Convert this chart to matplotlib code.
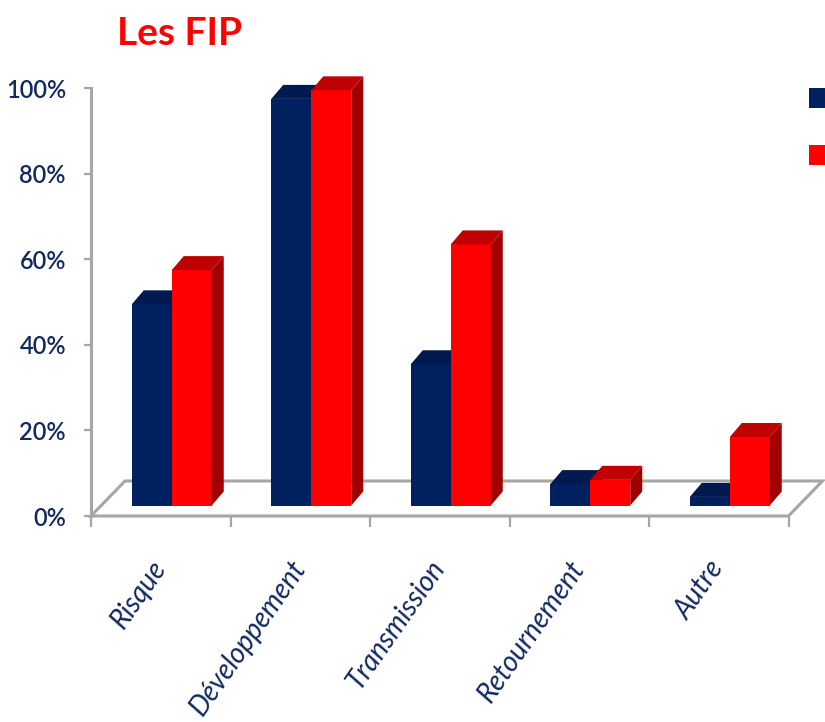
import matplotlib
matplotlib.use('Agg')
import matplotlib.pyplot as plt
from matplotlib.patches import Polygon, Patch
from matplotlib.transforms import ScaledTranslation
import numpy as np

#%% data

categories = ['Risque', 'Développement', 'Transmission', 'Retournement', 'Autre']
serie_bleue = [47, 95, 33, 5, 2]
serie_rouge = [55, 97, 61, 6, 16]
yticks = [0, 20, 40, 60, 80, 100]

navy = '#002060'
navy_top = '#001a4f'
navy_side = '#00164a'
red = '#ff0000'
red_top = '#c00000'
red_side = '#a00000'
grey = '#a6a6a6'
text_col = '#11295e'

#%% figure

fig = plt.figure(figsize=(8.25, 7.22), dpi=100)
W, H = 825, 722
ax = fig.add_axes([91 / W, (H - 516) / H, 697.5 / W, 428 / H])
ax.set_xlim(-0.5, 4.5)
ax.set_ylim(0, 100)

px_x = 5 / 697.5     # data units per pixel, x
px_y = 100 / 428     # data units per pixel, y

# floor
fdx, fdy = 34 * px_x, 35 * px_y
floor = Polygon([(-0.5, 0), (4.5, 0), (4.5 + fdx, fdy), (-0.5 + fdx, fdy)],
                closed=True, facecolor='white', edgecolor=grey, lw=2.2,
                clip_on=False, zorder=1)
ax.add_patch(floor)

# bars sit a bit behind the front edge of the floor
shift = ScaledTranslation(11 / 100, 10.5 / 100, fig.dpi_scale_trans)
tr = ax.transData + shift

x = np.arange(len(categories))
w = 40 * px_x
ddx, ddy = 12 * px_x, 14 * px_y


def draw_bars(xs, vals, front, top, side, z):
    ax.bar(xs, vals, width=w, color=front, transform=tr, zorder=z,
           clip_on=False)
    for xc, v in zip(xs, vals):
        xl, xr = xc - w / 2, xc + w / 2
        ax.add_patch(Polygon([(xl, v), (xr, v), (xr + ddx, v + ddy),
                              (xl + ddx, v + ddy)], closed=True,
                             facecolor=top, lw=0, transform=tr, zorder=z,
                             clip_on=False))
        ax.add_patch(Polygon([(xr, 0), (xr + ddx, ddy), (xr + ddx, v + ddy),
                              (xr, v)], closed=True, facecolor=side, lw=0,
                             transform=tr, zorder=z, clip_on=False))


draw_bars(x - w / 2, serie_bleue, navy, navy_top, navy_side, 3)
draw_bars(x + w / 2, serie_rouge, red, red_top, red_side, 4)

#%% axes

for s in ['top', 'right', 'bottom']:
    ax.spines[s].set_visible(False)
ax.spines['left'].set_color(grey)
ax.spines['left'].set_linewidth(2.2)

ax.set_yticks(yticks)
ax.set_yticklabels([f'{t}%' for t in yticks])
ax.tick_params(axis='y', length=5, width=1.6, color=grey, pad=13,
               labelsize=17, labelcolor=text_col)

ax.set_xticks(x)
ax.set_xticklabels(categories, rotation=55, ha='right', va='center',
                   rotation_mode='anchor', fontstyle='italic', fontsize=20,
                   color=text_col)
ax.set_xticks(np.arange(-0.5, 5, 1), minor=True)
ax.tick_params(axis='x', which='major', length=0, pad=34)
ax.tick_params(axis='x', which='minor', length=8, width=1.6, color=grey)

for lab in ax.get_xticklabels():
    lab.set_fontfamily(['Lato', 'DejaVu Sans'])
for lab in ax.get_yticklabels():
    lab.set_fontfamily(['Lato', 'DejaVu Sans'])
    lab.set_fontweight('semibold')

fig.text(117 / W, 1 - 45 / H, 'Les FIP', color=red, fontsize=28,
         fontweight='bold', family=['Lato', 'DejaVu Sans'], va='baseline')

# legend, cut by the right edge like in the original slide
handles = [Patch(facecolor=navy), Patch(facecolor=red)]
fig.legend(handles, ['', ''], loc='upper left',
           bbox_to_anchor=(809 / W, 1 - 88 / H), frameon=False,
           fontsize=16, handlelength=1.0, handleheight=1.0,
           labelspacing=1.6, borderpad=0, borderaxespad=0)

fig.savefig('out.png', dpi=100)
